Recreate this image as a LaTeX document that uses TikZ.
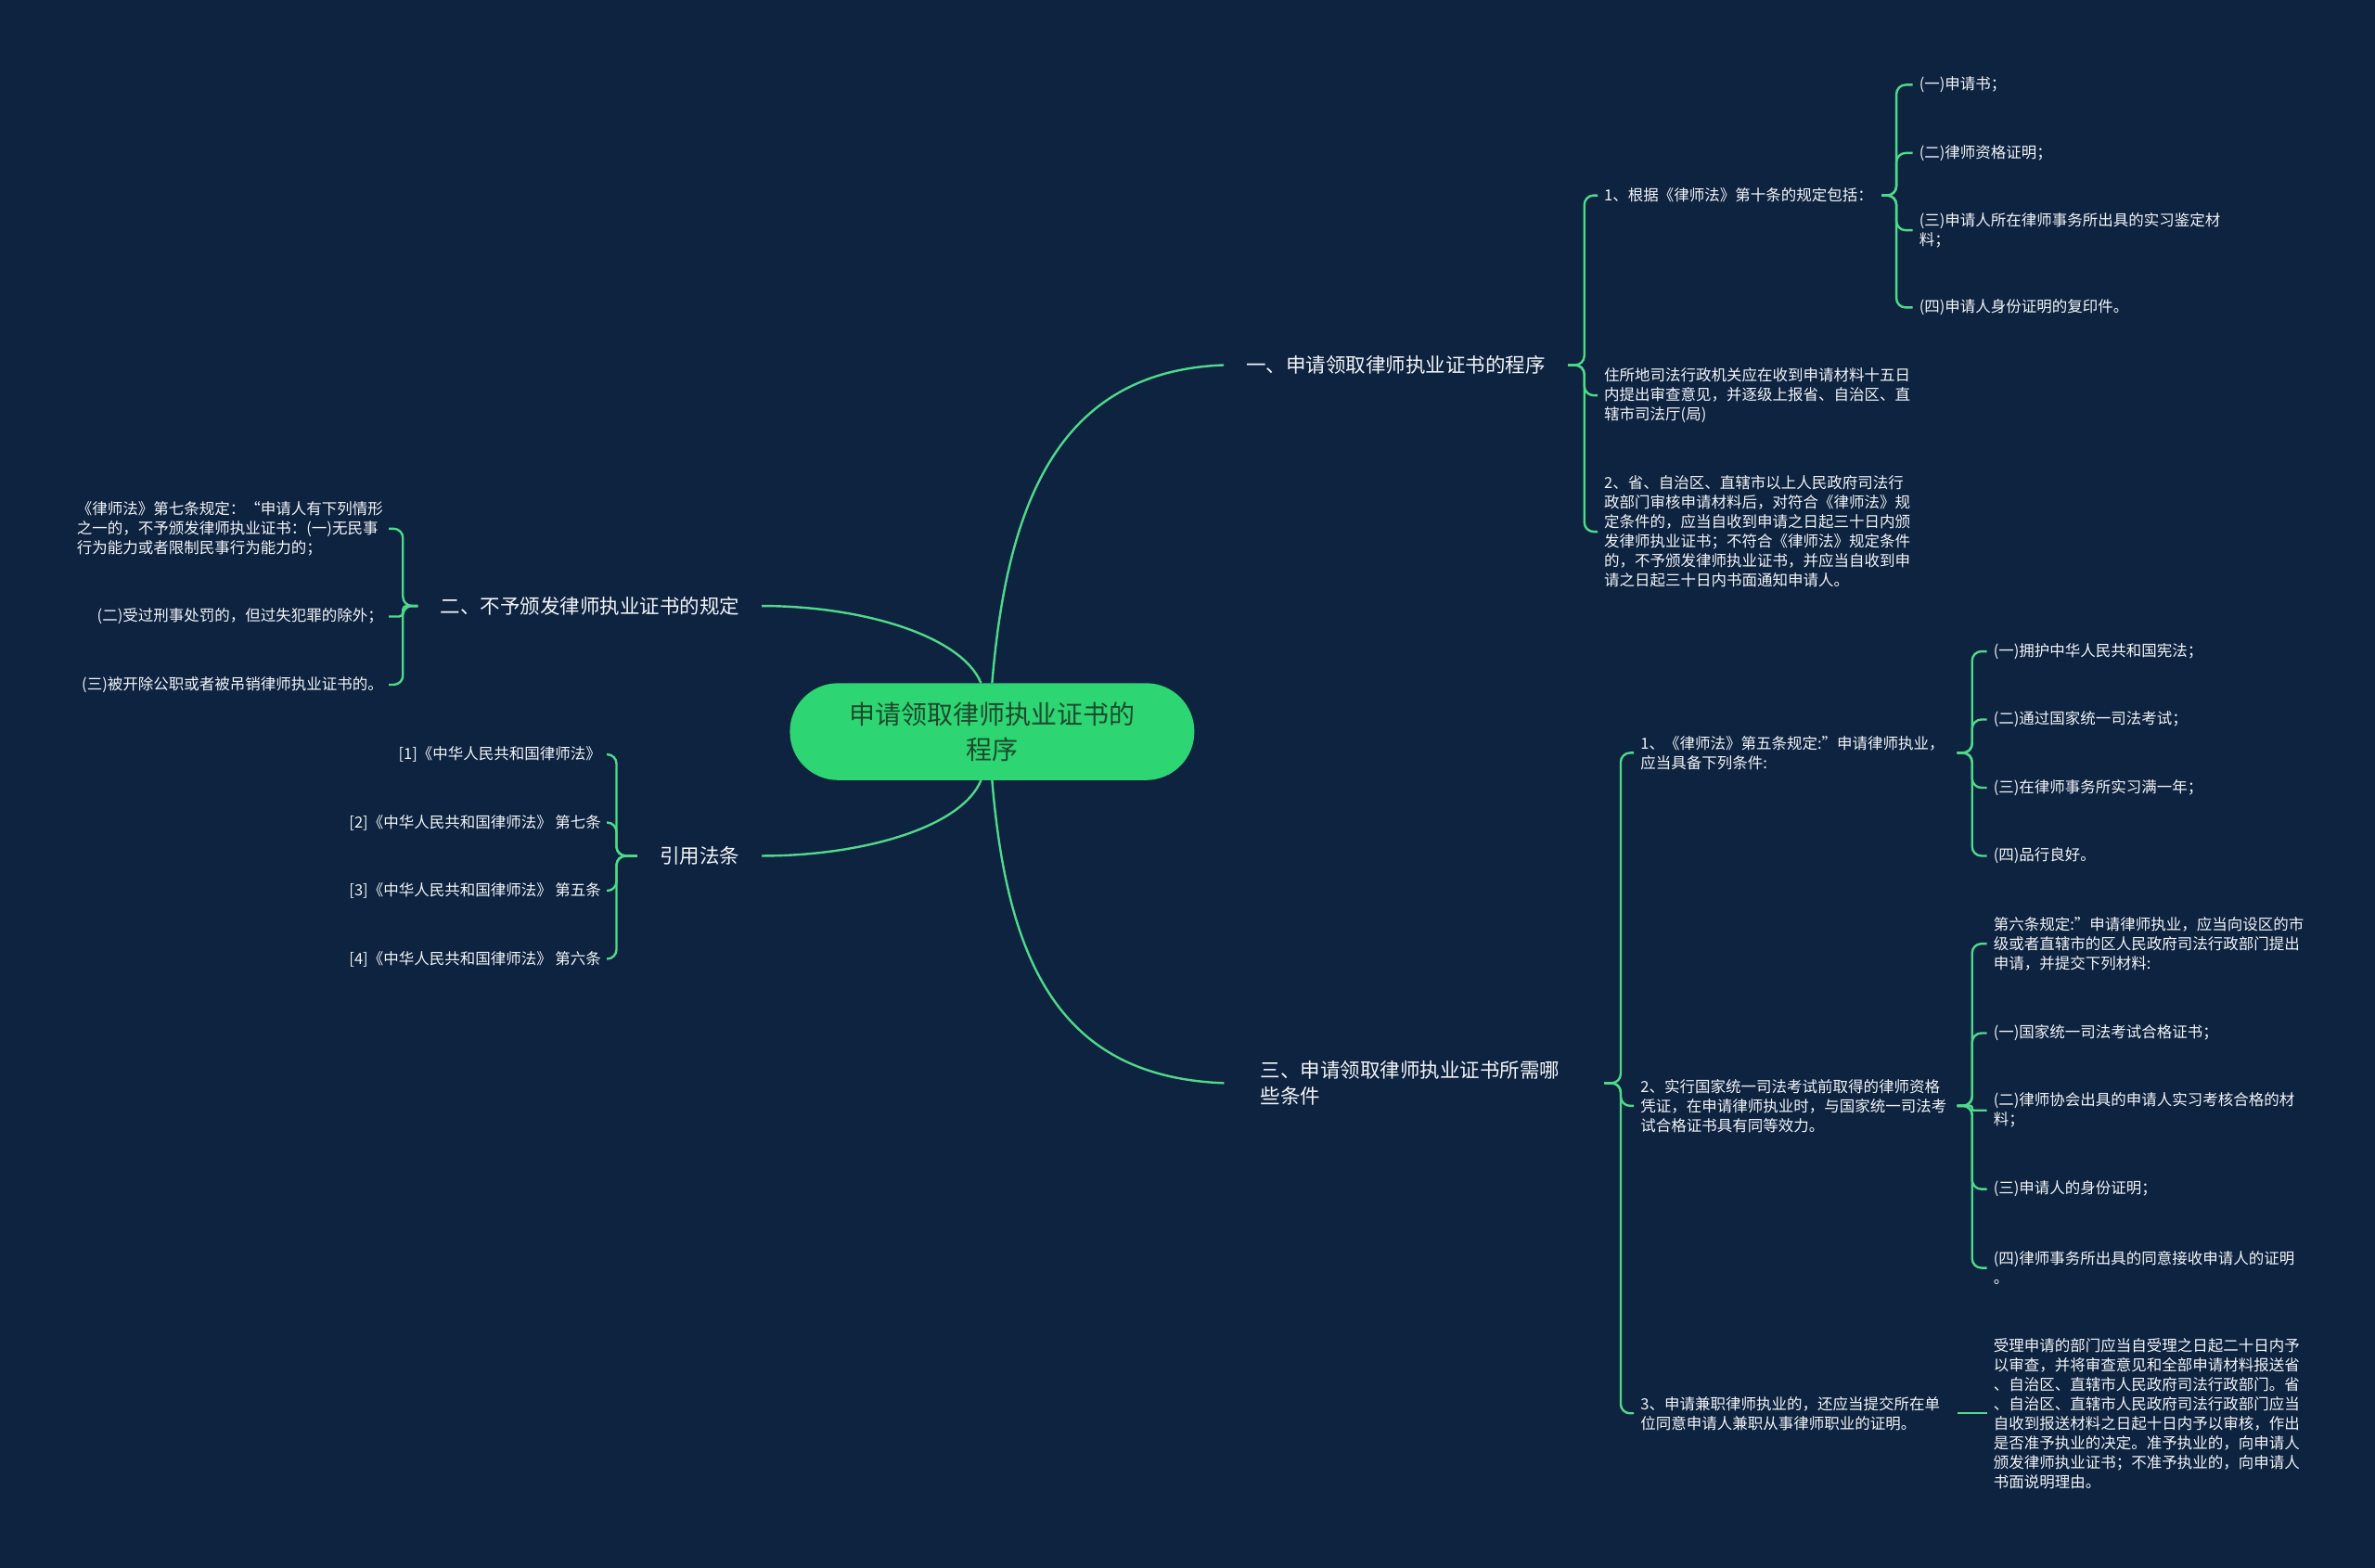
\documentclass[tikz,border=0pt]{standalone}
\usepackage{fontspec}
\setmainfont{Noto Sans CJK SC}
\newfontfamily\wmlatin{Liberation Serif}
\definecolor{bg}{HTML}{0E2340}
\definecolor{ln}{HTML}{4FD98A}
\definecolor{rootfill}{HTML}{2ED573}
\definecolor{roottext}{HTML}{1C4A2C}
\definecolor{txt}{HTML}{F2F5F8}
\tikzset{
  rootbox/.style={fill=rootfill, rounded corners=52pt, minimum width=436pt, minimum height=104.5pt,
    align=center, text=roottext, font=\fontsize{28}{38}\selectfont, inner sep=0pt},
  title/.style={text=txt, font=\fontsize{21.5}{27.5}\selectfont, align=left, inner xsep=24pt, inner ysep=2pt},
  leaf/.style={text=txt, font=\fontsize{16.5}{21}\selectfont, align=left, inner xsep=0pt, inner ysep=2pt},
  rleaf/.style={leaf, anchor=east},
  conn/.style={draw=ln, line width=2.4pt, rounded corners=10pt},
  curve/.style={draw=ln, line width=2.4pt}
}
\begin{document}
\begin{tikzpicture}[x=1.6327pt, y=-1.6327pt]
\fill[bg] (0,0) rectangle (1568,1035);
\useasboundingbox (0,0) rectangle (1568,1035);

% root
\node[rootbox] (root) at (655,483) {申请领取律师执业证书的\\程序};

% main branches
\node[title, anchor=west] (B1) at (808,241) {一、申请领取律师执业证书的程序};
\node[title, anchor=east] (B2) at (503,400) {二、不予颁发律师执业证书的规定};
\node[title, anchor=west, inner xsep=0pt, text width=370.6pt] (B3) at (832,715) {三、申请领取律师执业证书所需哪\\些条件};
\node[title, anchor=east] (B4) at (503,565) {引用法条};

\draw[curve] (root.north) .. controls (665,330) and (700,245) .. (B1.west);
\draw[curve] ([xshift=-12pt]root.north) .. controls (635,420) and (570,400) .. (B2.east);
\draw[curve] (root.south) .. controls (665,636) and (700,711) .. ([xshift=-39pt]B3.west);
\draw[curve] ([xshift=-12pt]root.south) .. controls (635,546) and (570,565) .. (B4.east);

% ---------- branch 1 ----------
\node[leaf, anchor=west, text width=299pt] (c11) at (1059,129) {1、根据《律师法》第十条的规定包括：};
\node[leaf, anchor=west] (c12) at (1059,261) {住所地司法行政机关应在收到申请材料十五日\\内提出审查意见，并逐级上报省、自治区、直\\辖市司法厅(局)};
\node[leaf, anchor=west] (c13) at (1059,351) {2、省、自治区、直辖市以上人民政府司法行\\政部门审核申请材料后，对符合《律师法》规\\定条件的，应当自收到申请之日起三十日内颁\\发律师执业证书；不符合《律师法》规定条件\\的，不予颁发律师执业证书，并应当自收到申\\请之日起三十日内书面通知申请人。};
\coordinate (s1) at (1046,241);
\foreach \c in {c11,c12,c13} \draw[conn] (B1.east) -- (s1) |- ([xshift=-7pt]\c.west);

\node[leaf, anchor=west] (c111) at (1267,56) {(一)申请书；};
\node[leaf, anchor=west] (c112) at (1267,101) {(二)律师资格证明；};
\node[leaf, anchor=west] (c113) at (1267,152) {(三)申请人所在律师事务所出具的实习鉴定材\\料；};
\node[leaf, anchor=west] (c114) at (1267,203) {(四)申请人身份证明的复印件。};
\coordinate (s11) at (1252,129);
\foreach \c in {c111,c112,c113,c114} \draw[conn] (c11.east) -- (s11) |- ([xshift=-7pt]\c.west);

% ---------- branch 2 ----------
\node[rleaf] (c21) at (253,349) {《律师法》第七条规定：“申请人有下列情形\\之一的，不予颁发律师执业证书：(一)无民事\\行为能力或者限制民事行为能力的；};
\node[rleaf] (c22) at (253,407) {(二)受过刑事处罚的，但过失犯罪的除外；};
\node[rleaf] (c23) at (253,452) {(三)被开除公职或者被吊销律师执业证书的。};
\coordinate (s2) at (266,400);
\draw[conn] (B2.west) -- (s2) |- ([xshift=6pt]c21.east);
\draw[conn, rounded corners=4pt] (B2.west) -- (s2) |- ([xshift=6pt]c22.east);
\draw[conn] (B2.west) -- (s2) |- ([xshift=6pt]c23.east);

% ---------- branch 4 (引用法条) ----------
\node[rleaf] (c41) at (397,498) {[1]《中华人民共和国律师法》};
\node[rleaf] (c42) at (397,543) {[2]《中华人民共和国律师法》 第七条};
\node[rleaf] (c43) at (397,588) {[3]《中华人民共和国律师法》 第五条};
\node[rleaf] (c44) at (397,633) {[4]《中华人民共和国律师法》 第六条};
\coordinate (s4) at (407,565);
\foreach \c in {c41,c42,c43,c44} \draw[conn] (B4.west) -- (s4) |- ([xshift=6pt]\c.east);

% ---------- branch 3 ----------
\node[leaf, anchor=west, text width=341pt] (c31) at (1083,497) {1、《律师法》第五条规定:"申请律师执业，\\应当具备下列条件:};
\node[leaf, anchor=west, text width=341pt] (c32) at (1083,730) {2、实行国家统一司法考试前取得的律师资格\\凭证，在申请律师执业时，与国家统一司法考\\试合格证书具有同等效力。};
\node[leaf, anchor=west, text width=341pt] (c33) at (1083,933) {3、申请兼职律师执业的，还应当提交所在单\\位同意申请人兼职从事律师职业的证明。};
\coordinate (s3) at (1070,715);
\foreach \c in {c31,c32,c33} \draw[conn] (B3.east) -- (s3) |- ([xshift=-7pt]\c.west);

\node[leaf, anchor=west] (c311) at (1316,430) {(一)拥护中华人民共和国宪法；};
\node[leaf, anchor=west] (c312) at (1316,475) {(二)通过国家统一司法考试；};
\node[leaf, anchor=west] (c313) at (1316,520) {(三)在律师事务所实习满一年；};
\node[leaf, anchor=west] (c314) at (1316,565) {(四)品行良好。};
\coordinate (s31) at (1302,497);
\foreach \c in {c311,c312,c313,c314} \draw[conn] (c31.east) -- (s31) |- ([xshift=-7pt]\c.west);

\node[leaf, anchor=west] (c321) at (1316,623) {第六条规定:"申请律师执业，应当向设区的市\\级或者直辖市的区人民政府司法行政部门提出\\申请，并提交下列材料:};
\node[leaf, anchor=west] (c322) at (1316,682) {(一)国家统一司法考试合格证书；};
\node[leaf, anchor=west] (c323) at (1316,733) {(二)律师协会出具的申请人实习考核合格的材\\料；};
\node[leaf, anchor=west] (c324) at (1316,785) {(三)申请人的身份证明；};
\node[leaf, anchor=west] (c325) at (1316,837) {(四)律师事务所出具的同意接收申请人的证明\\。};
\coordinate (s32) at (1302,730);
\foreach \c in {c321,c322,c324,c325} \draw[conn] (c32.east) -- (s32) |- ([xshift=-7pt]\c.west);
\draw[conn, rounded corners=1.5pt] (c32.east) -- (s32) |- ([xshift=-7pt]c323.west);

\node[leaf, anchor=west] (c331) at (1316,933) {受理申请的部门应当自受理之日起二十日内予\\以审查，并将审查意见和全部申请材料报送省\\、自治区、直辖市人民政府司法行政部门。省\\、自治区、直辖市人民政府司法行政部门应当\\自收到报送材料之日起十日内予以审核，作出\\是否准予执业的决定。准予执业的，向申请人\\颁发律师执业证书；不准予执业的，向申请人\\书面说明理由。};
\draw[conn] (c33.east) -- ([xshift=-7pt]c331.west);
\end{tikzpicture}
\end{document}
